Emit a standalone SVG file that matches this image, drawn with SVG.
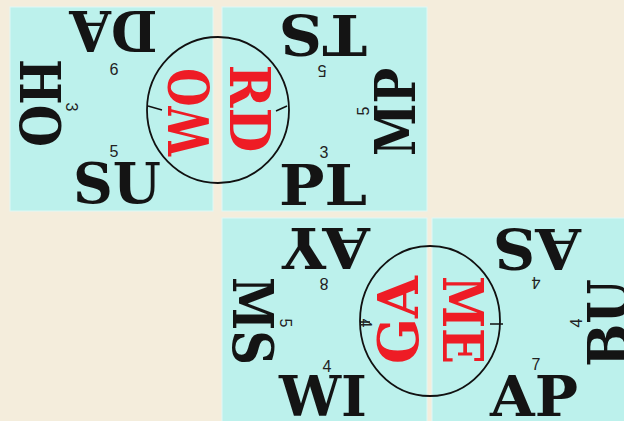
<svg xmlns="http://www.w3.org/2000/svg" width="624" height="421" viewBox="0 0 624 421">
<style>
.panel{fill:#bcf1ec;stroke:#dff8f5;stroke-width:1}
.big{font-family:"DejaVu Serif","Liberation Serif",serif;font-weight:bold;font-size:56px;text-anchor:middle;fill:#141414}
.red{fill:#ee1c25}
.num{font-family:"Liberation Sans",Arial,sans-serif;font-size:16px;text-anchor:middle;fill:#222}
.ring{fill:none;stroke:#111;stroke-width:1.8}
.tick{stroke:#111;stroke-width:1.5}
</style>
<rect width="624" height="421" fill="#f4eddc"/>
<g id="panels">
<rect class="panel" x="10" y="7" width="203" height="204"/>
<rect class="panel" x="222" y="7" width="205" height="204"/>
<rect class="panel" x="222" y="218" width="205" height="210"/>
<rect class="panel" x="432" y="218" width="200" height="210"/>
</g>
<g id="rings">
<ellipse class="ring" cx="218" cy="110" rx="71" ry="73"/>
<line class="tick" x1="148" y1="106" x2="162" y2="110"/>
<line class="tick" x1="276" y1="111" x2="287" y2="106"/>
<ellipse class="ring" cx="430" cy="321" rx="70" ry="75"/>
<line class="tick" x1="360" y1="322" x2="370" y2="322"/>
<line class="tick" x1="490" y1="324" x2="503" y2="324"/>
</g>
<g id="panel1">
<g id="w-da"><text class="big" transform="translate(113.5 31.5) rotate(180)" y="20.4" textLength="88" lengthAdjust="spacingAndGlyphs">DA</text></g>
<g id="w-ho"><text class="big" transform="translate(40 103) rotate(90)" y="20.4" textLength="88" lengthAdjust="spacingAndGlyphs">HO</text></g>
<g id="w-su"><text class="big" transform="translate(117 183)" y="20.4" textLength="88" lengthAdjust="spacingAndGlyphs">SU</text></g>
<g id="n-9"><text class="num" transform="translate(114 69) rotate(180)" y="5.8">9</text></g>
<g id="n-3a"><text class="num" transform="translate(72 107) rotate(90)" y="5.8">3</text></g>
<g id="n-5a"><text class="num" transform="translate(114 151)" y="5.8">5</text></g>
<g id="w-wo"><text class="big red" transform="translate(189 112) rotate(-90)" y="20.4" textLength="88" lengthAdjust="spacingAndGlyphs">WO</text></g>
</g>
<g id="panel2">
<g id="w-ts"><text class="big" transform="translate(323 35) rotate(180)" y="20.4" textLength="88" lengthAdjust="spacingAndGlyphs">TS</text></g>
<g id="w-mp"><text class="big" transform="translate(395 112) rotate(-90)" y="20.4" textLength="88" lengthAdjust="spacingAndGlyphs">MP</text></g>
<g id="w-pl"><text class="big" transform="translate(323 185)" y="20.4" textLength="88" lengthAdjust="spacingAndGlyphs">PL</text></g>
<g id="n-5b"><text class="num" transform="translate(322 71) rotate(180)" y="5.8">5</text></g>
<g id="n-5c"><text class="num" transform="translate(363 111) rotate(-90)" y="5.8">5</text></g>
<g id="n-3b"><text class="num" transform="translate(324 152)" y="5.8">3</text></g>
<g id="w-rd"><text class="big red" transform="translate(250 108.5) rotate(90)" y="20.4" textLength="88" lengthAdjust="spacingAndGlyphs">RD</text></g>
</g>
<g id="panel3">
<g id="w-ay"><text class="big" transform="translate(326 248) rotate(180)" y="20.4" textLength="88" lengthAdjust="spacingAndGlyphs">AY</text></g>
<g id="w-ms"><text class="big" transform="translate(253 321) rotate(90)" y="20.4" textLength="88" lengthAdjust="spacingAndGlyphs">MS</text></g>
<g id="w-wi"><text class="big" transform="translate(323 396)" y="20.4" textLength="88" lengthAdjust="spacingAndGlyphs">WI</text></g>
<g id="n-8"><text class="num" transform="translate(324 284) rotate(180)" y="5.8">8</text></g>
<g id="n-5d"><text class="num" transform="translate(286 323) rotate(90)" y="5.8">5</text></g>
<g id="n-4a"><text class="num" transform="translate(327 366)" y="5.8">4</text></g>
<g id="n-4b"><text class="num" transform="translate(366 323) rotate(90)" y="5.8">4</text></g>
<g id="w-ga"><text class="big red" transform="translate(397.5 320) rotate(-90)" y="20.4" textLength="88" lengthAdjust="spacingAndGlyphs">GA</text></g>
</g>
<g id="panel4">
<g id="w-as"><text class="big" transform="translate(537 249) rotate(180)" y="20.4" textLength="88" lengthAdjust="spacingAndGlyphs">AS</text></g>
<g id="w-bu"><text class="big" transform="translate(608 323) rotate(-90)" y="20.4" textLength="88" lengthAdjust="spacingAndGlyphs">BU</text></g>
<g id="w-ap"><text class="big" transform="translate(534 396)" y="20.4" textLength="88" lengthAdjust="spacingAndGlyphs">AP</text></g>
<g id="n-4c"><text class="num" transform="translate(536 283) rotate(180)" y="5.8">4</text></g>
<g id="n-4d"><text class="num" transform="translate(576 323) rotate(-90)" y="5.8">4</text></g>
<g id="n-7"><text class="num" transform="translate(536 364)" y="5.8">7</text></g>
<g id="w-me"><text class="big red" transform="translate(463 320) rotate(90)" y="20.4" textLength="88" lengthAdjust="spacingAndGlyphs">ME</text></g>
</g>
</svg>
